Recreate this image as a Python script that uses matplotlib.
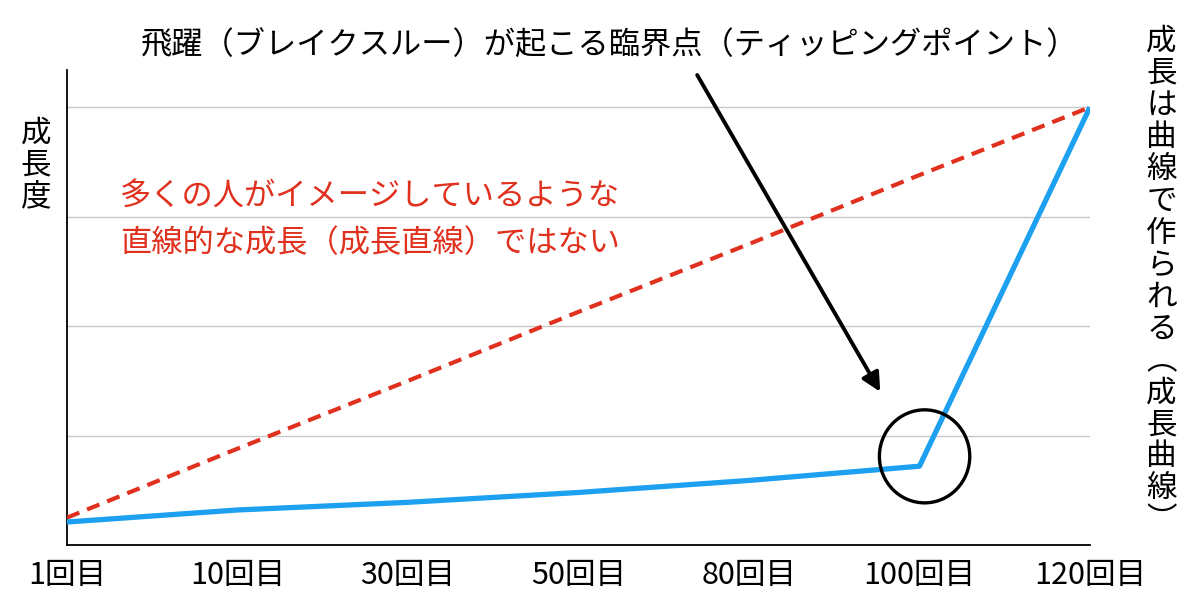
import matplotlib
matplotlib.use("Agg")
import matplotlib.pyplot as plt
from matplotlib.patches import Ellipse

plt.rcParams['font.family'] = ['Noto Sans CJK JP', 'DejaVu Sans']

# データ
categories = ["1回目", "10回目", "30回目", "50回目", "80回目", "100回目", "120回目"]
growth_curve = [0.21, 0.32, 0.39, 0.48, 0.59, 0.72, 4.0]      # 成長曲線（実際）
growth_line = [0.25, 0.88, 1.5, 2.13, 2.75, 3.38, 4.0]        # 成長直線（イメージ）
tipping_index = 5

title_text = "飛躍（ブレイクスルー）が起こる臨界点（ティッピングポイント）"
red_text = "多くの人がイメージしているような\n直線的な成長（成長直線）ではない"
ylabel_text = "成長度"
right_text = "成長は曲線で作られる︵成長曲線︶"

fig = plt.figure(figsize=(12, 6.15), dpi=100)
ax = fig.add_axes([0.0558, 0.1138, 0.8525, 0.7724])

x = list(range(len(categories)))
ax.plot(x, growth_line, color="#e0301e", lw=3.0, linestyle=(0, (3.2, 2.0)), zorder=3)
ax.plot(x, growth_curve, color="#1ea0f0", lw=3.8, solid_capstyle="butt", zorder=4)

ax.set_xlim(0, len(categories) - 1)
ax.set_ylim(0, 4.34)
ax.set_xticks(x)
ax.set_xticklabels(categories, fontsize=22)
ax.set_yticks([1, 2, 3, 4])
ax.set_yticklabels([])
ax.tick_params(axis="both", length=0)
ax.tick_params(axis="x", pad=11)
ax.grid(axis="y", color="#c8c8c8", lw=1)
ax.set_axisbelow(True)
for side in ["top", "right"]:
    ax.spines[side].set_visible(False)
for side in ["left", "bottom"]:
    ax.spines[side].set_linewidth(1.3)

# 臨界点の丸と矢印
tx, ty = x[tipping_index], growth_curve[tipping_index]
ax.add_patch(Ellipse((tx + 0.03, ty + 0.09), 0.53, 0.85, fill=False,
                     edgecolor="black", lw=2.4, zorder=5, clip_on=False))
ax.annotate("", xy=(tx - 0.23, ty + 0.68), xycoords="data",
            xytext=(0.581, 0.878), textcoords="figure fraction",
            arrowprops=dict(arrowstyle="-|>", lw=2.8, color="black",
                            mutation_scale=28, shrinkA=0, shrinkB=0))

fig.text(0.508, 0.927, title_text, fontsize=22.5, ha="center", va="center")
fig.text(0.1, 0.643, red_text, fontsize=22.5, color="#e0301e",
         ha="left", va="center", linespacing=1.6)
fig.text(0.03, 0.732, "\n".join(ylabel_text), fontsize=22,
         ha="center", va="center", linespacing=1.05)
fig.text(0.968, 0.543, "\n".join(right_text), fontsize=22,
         ha="center", va="center", linespacing=1.04)

fig.savefig("out.png", dpi=100)
